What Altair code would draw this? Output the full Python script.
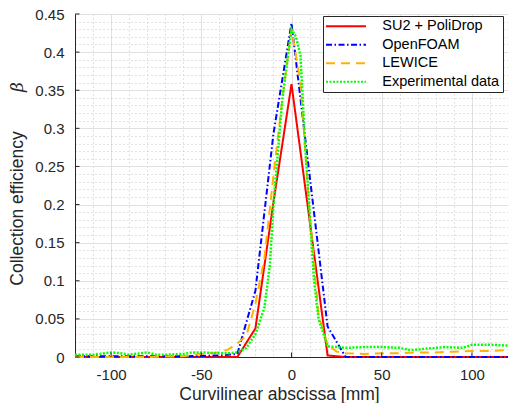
import altair as alt
import pandas as pd

series_names = ["SU2 + PoliDrop", "OpenFOAM", "LEWICE", "Experimental data"]
colors = ["#FF0000", "#0000FF", "#FFB300", "#00FF00"]
dashes = [[1, 0], [6, 2.5, 1.5, 2.5], [9, 6], [2, 1.5]]
widths = [2, 2, 2, 2.5]

# SU2 + PoliDrop
su2_x = [-120, -100, -80, -60, -40, -30, -20, -10, 0, 10, 20, 30, 40, 60, 80, 100, 120]
su2_y = [0, 0, 0, 0, 0, 0, 0.0375, 0.203, 0.358, 0.18, 0.002, 0, 0, 0, 0, 0, 0]

# OpenFOAM
of_x = [-120, -100, -80, -60, -40, -30, -20, -10, 0, 10, 20, 30, 40, 60, 80, 100, 120]
of_y = [0.001, 0.001, 0.001, 0.001, 0.002, 0.004, 0.087, 0.293, 0.438, 0.239, 0.04, 0, 0, 0, 0, 0, 0]

# LEWICE
lw_x = [-120, -100, -80, -60, -50, -40, -35, -30, -25, -20, -15, -10, -5, 0, 5, 10, 15, 20,
        25, 30, 40, 50, 60, 70, 80, 90, 100, 110, 120]
lw_y = [0, 0, 0, 0.001, 0.004, 0.006, 0.01, 0.018, 0.028, 0.07, 0.13, 0.238, 0.34, 0.43,
        0.36, 0.19, 0.055, 0.016, 0.007, 0.005, 0.004, 0.005, 0.005, 0.006, 0.006, 0.007,
        0.008, 0.008, 0.009]

# Experimental data
ex_x = [-120, -110, -100, -95, -90, -80, -75, -70, -60, -55, -50, -40, -35, -30, -25, -20,
        -15, -12, -10, -5, 0, 2.5, 5, 7.5, 10, 12.5, 15, 20, 30, 40, 50, 60, 66, 75, 85, 95,
        100, 110, 120]
ex_y = [0.003, 0.003, 0.006, 0.005, 0.003, 0.006, 0.003, 0.003, 0.004, 0.006, 0.006, 0.005,
        0.005, 0.006, 0.012, 0.03, 0.065, 0.12, 0.2, 0.34, 0.43, 0.42, 0.395, 0.28, 0.19,
        0.1, 0.05, 0.014, 0.012, 0.013, 0.013, 0.012, 0.009, 0.011, 0.013, 0.012, 0.016,
        0.016, 0.015]

x_ticks = [-100, -50, 0, 50, 100]
y_ticks = [0, 0.05, 0.1, 0.15, 0.2, 0.25, 0.3, 0.35, 0.4, 0.45]
x_minor = [-120 + 10 * i for i in range(25)]
y_minor = [round(0.01 * i, 2) for i in range(46)]

frames = []
for name, xs, ys in [(series_names[0], su2_x, su2_y), (series_names[1], of_x, of_y),
                     (series_names[2], lw_x, lw_y), (series_names[3], ex_x, ex_y)]:
    frames.append(pd.DataFrame({"x": xs, "y": ys, "series": name}))
df = pd.concat(frames, ignore_index=True)

W, H = 433, 343
TXT = "#262626"

xscale = alt.Scale(domain=[-120, 120], nice=False, zero=False)
yscale = alt.Scale(domain=[0, 0.45], nice=False)
color_scale = alt.Scale(domain=series_names, range=colors)
dash_scale = alt.Scale(domain=series_names, range=dashes)

legend = alt.Legend(
    title=None, orient="none", legendX=248, legendY=2,
    symbolType="M-3.33,0H3.33", symbolSize=144, symbolStrokeWidth=2,
    symbolOffset=12.75, labelOffset=29,
    labelFont="Liberation Sans", labelFontSize=14.5, labelColor="#000000",
    labelLimit=400, rowPadding=3.5, padding=3,
    strokeColor=TXT, fillColor="#FFFFFF",
    labelExpr="datum.label + '\u00a0\u00a0\u00a0\u00a0'",
)

minor = alt.Chart(df).mark_line(opacity=0).encode(
    x=alt.X("x:Q", scale=xscale, axis=alt.Axis(
        orient="bottom", values=x_minor, grid=True, gridColor="#c4c4c4", gridDash=[1, 3],
        gridWidth=1, labels=False, ticks=False, domain=False, title=None)),
    y=alt.Y("y:Q", scale=yscale, axis=alt.Axis(
        orient="left", values=y_minor, grid=True, gridColor="#c4c4c4", gridDash=[1, 3],
        gridWidth=1, labels=False, ticks=False, domain=False, title=None)),
    detail="series:N",
)

major = alt.Chart(df).mark_line(opacity=0).encode(
    x=alt.X("x:Q", scale=xscale, axis=alt.Axis(
        orient="bottom", values=x_ticks, grid=True, gridColor="#e0e0e0", gridWidth=1,
        ticks=False, domain=True, domainColor=TXT, domainWidth=1,
        labelFont="Liberation Sans", labelFontSize=15, labelColor=TXT, labelPadding=10,
        labelExpr="datum.value < 0 ? '-' + abs(datum.value) : '' + datum.value",
        title="Curvilinear abscissa [mm]", titleFont="Liberation Sans", titleFontSize=17.5,
        titleFontWeight="normal", titleColor=TXT, titlePadding=3, titleX=204)),
    y=alt.Y("y:Q", scale=yscale, axis=alt.Axis(
        orient="left", values=y_ticks, grid=True, gridColor="#e0e0e0", gridWidth=1,
        ticks=False, domain=True, domainColor=TXT, domainWidth=1, format="~g",
        labelFont="Liberation Sans", labelFontSize=15, labelColor=TXT, labelPadding=11,
        title="Collection efficiency", titleFont="Liberation Sans", titleFontSize=17.5,
        titleFontWeight="normal", titleColor=TXT, titlePadding=8, titleY=194)),
    detail="series:N",
)

lines = []
for i, name in enumerate(series_names):
    lines.append(
        alt.Chart(df).transform_filter(alt.datum.series == name)
        .mark_line(strokeWidth=widths[i])
        .encode(
            x=alt.X("x:Q", scale=xscale, axis=None),
            y=alt.Y("y:Q", scale=yscale, axis=None),
            color=alt.Color("series:N", scale=color_scale, legend=legend),
            strokeDash=alt.StrokeDash("series:N", scale=dash_scale, legend=legend),
        )
    )

xt = pd.DataFrame({"x": x_ticks})
yt = pd.DataFrame({"y": y_ticks})
xtick_marks = alt.Chart(xt).mark_rule(color=TXT, strokeWidth=1).encode(
    x=alt.X("x:Q", scale=xscale, axis=None), y=alt.value(H), y2=alt.value(H - 4.5))
ytick_marks = alt.Chart(yt).mark_rule(color=TXT, strokeWidth=1).encode(
    y=alt.Y("y:Q", scale=yscale, axis=None), x=alt.value(0), x2=alt.value(4.5))

beta = alt.Chart(pd.DataFrame({"t": ["β"]})).mark_text(
    font="DejaVu Serif", fontStyle="italic", fontSize=17, color=TXT, angle=270,
    align="center", baseline="middle").encode(
    text="t:N", x=alt.value(-57), y=alt.value(73))

chart = alt.layer(minor, major, *lines, xtick_marks, ytick_marks, beta).resolve_axis(
    x="independent", y="independent").properties(
    width=W, height=H,
    autosize=alt.AutoSizeParams(type="none"),
    padding={"left": 67, "top": 6, "right": 0, "bottom": 46},
    background="#FFFFFF",
).configure_view(stroke=None).configure(font="Liberation Sans")

chart.save("out.html", embed_options={"renderer": "svg", "actions": False})
